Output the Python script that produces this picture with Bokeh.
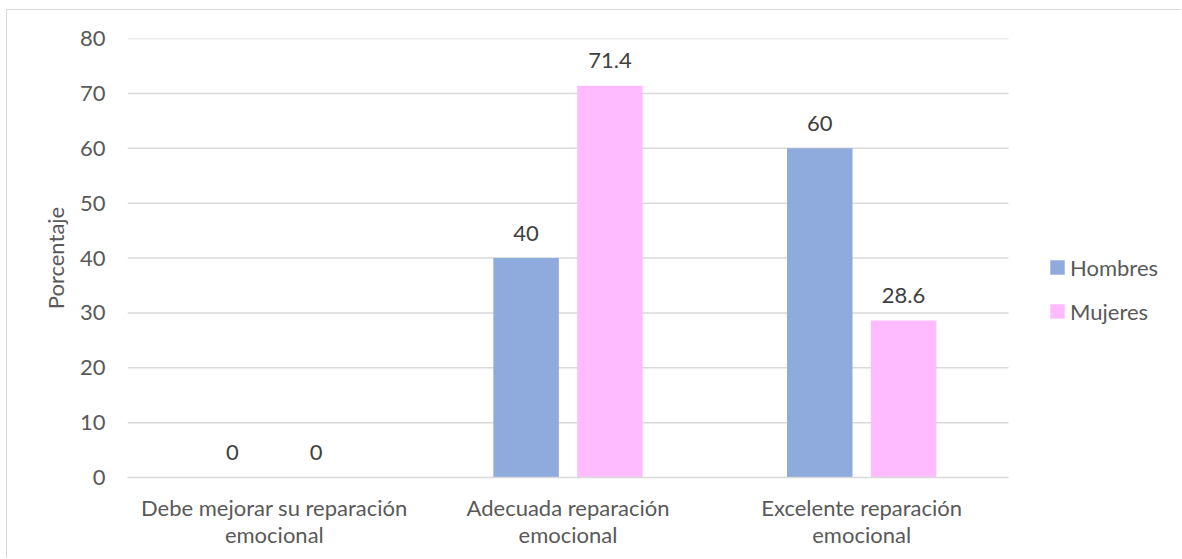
from bokeh.plotting import figure
from bokeh.models import (ColumnDataSource, Range1d, FixedTicker, LabelSet,
                          Legend, LegendItem)
from bokeh.core.properties import value
from bokeh.transform import dodge
from bokeh.embed import file_html
from bokeh.resources import INLINE

# --- data -------------------------------------------------------------
categories = [
    "Debe mejorar su reparación\nemocional",
    "Adecuada reparación\nemocional",
    "Excelente reparación\nemocional",
]
hombres = [0, 40, 60]
mujeres = [0, 71.4, 28.6]
y_ticks = [0, 10, 20, 30, 40, 50, 60, 70, 80]
series_names = ["Hombres", "Mujeres"]

# --- style ------------------------------------------------------------
FONT = "Lato"
FS = "22px"
TXT = "#595959"
GRID = "#D9D9D9"
C_H = "#8FAADC"
C_M = "#FFBBFF"


def fmt(v):
    return f"{v:g}"


n = len(categories)
centers = [i + 0.5 for i in range(n)]

src = ColumnDataSource(dict(
    x=centers,
    hombres=hombres,
    mujeres=mujeres,
    lab_h=[fmt(v) for v in hombres],
    lab_m=[fmt(v) for v in mujeres],
))

# canvas / frame geometry (pixels)
W, H = 1175, 549
LEFT, TOP, BOTTOM = 120, 28, 82
CAT_PX = 293.67                      # width of one category slot
x_end = (W - LEFT) / CAT_PX          # frame runs to the right edge; legend sits in the spare room

p = figure(
    x_range=Range1d(0, x_end),
    y_range=Range1d(0, 80),
    width=W, height=H,
    output_backend="svg",
    toolbar_location=None,
    min_border_left=LEFT, min_border_right=0,
    min_border_top=TOP, min_border_bottom=BOTTOM,
    background_fill_color="white", border_fill_color="white",
    outline_line_color=None,
)
p.margin = (9, 0, 0, 6)
p.styles = {"border-left": f"1px solid {GRID}", "border-top": f"1px solid {GRID}"}

# horizontal grid lines, limited to the category area
p.segment(x0=0, x1=n, y0=y_ticks[1:], y1=y_ticks[1:],
          line_color=GRID, line_width=1.5)

off = 0.1427
bw = 0.223
r_h = p.vbar(x=dodge("x", -off), top="hombres", width=bw,
             source=src, fill_color=C_H, line_color=None)
r_m = p.vbar(x=dodge("x", off), top="mujeres", width=bw,
             source=src, fill_color=C_M, line_color=None)

# value labels above each bar
for col, lab, o in (("hombres", "lab_h", -off), ("mujeres", "lab_m", off)):
    p.add_layout(LabelSet(
        x=dodge("x", o), y=col, text=lab, source=src,
        y_offset=25, text_align="center", text_baseline="middle",
        text_font=value(FONT), text_font_size=FS, text_color="#404040",
    ))

# y axis
p.yaxis.ticker = FixedTicker(ticks=y_ticks)
p.yaxis.axis_line_color = None
p.yaxis.major_tick_line_color = None
p.yaxis.minor_tick_line_color = None
p.yaxis.major_tick_out = 0
p.yaxis.major_tick_in = 0
p.yaxis.major_label_standoff = 22
p.yaxis.major_label_text_font = FONT
p.yaxis.major_label_text_font_size = FS
p.yaxis.major_label_text_color = TXT
p.yaxis.axis_label = "Porcentaje"
p.yaxis.axis_label_text_font = FONT
p.yaxis.axis_label_text_font_size = FS
p.yaxis.axis_label_text_font_style = "normal"
p.yaxis.axis_label_text_color = TXT
p.yaxis.axis_label_standoff = 8

# x axis: category names under each group
p.xaxis.ticker = FixedTicker(ticks=centers)
p.xaxis.major_label_overrides = {c: lab for c, lab in zip(centers, categories)}
p.xaxis.bounds = (0, n)
p.xaxis.axis_line_color = GRID
p.xaxis.axis_line_width = 1.5
p.xaxis.major_tick_line_color = None
p.xaxis.minor_tick_line_color = None
p.xaxis.major_tick_out = 0
p.xaxis.major_tick_in = 0
p.xaxis.major_label_standoff = 16
p.xaxis.major_label_text_font = FONT
p.xaxis.major_label_text_font_size = FS
p.xaxis.major_label_text_color = TXT
p.xaxis.major_label_text_line_height = 1.0

p.xgrid.grid_line_color = None
p.ygrid.grid_line_color = None

legend = Legend(
    items=[LegendItem(label=series_names[0], renderers=[r_h]),
           LegendItem(label=series_names[1], renderers=[r_m])],
    location=(921, 151),
    orientation="vertical",
    padding=0, margin=0, spacing=14,
    glyph_width=18, glyph_height=18, label_height=30,
    label_standoff=4,
    label_text_font=FONT, label_text_font_size=FS, label_text_color=TXT,
    border_line_color=None, background_fill_alpha=0,
)
p.add_layout(legend)

open("out.html", "w").write(file_html(p, INLINE))
